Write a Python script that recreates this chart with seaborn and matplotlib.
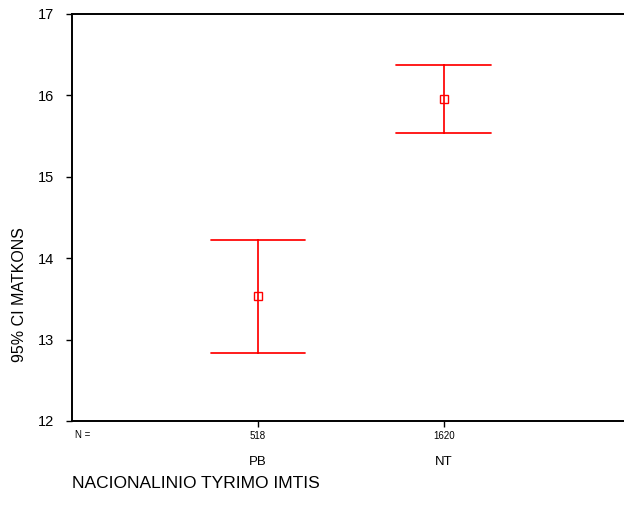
import matplotlib
matplotlib.use('Agg')
import matplotlib.pyplot as plt
import matplotlib.transforms as mtransforms
import seaborn as sns
import pandas as pd

# Duomenys (nuskaityta nuo paveikslo)
groups = ['PB', 'NT']
n_counts = [518, 1620]
means = [13.53, 15.96]
ci_low = [12.83, 15.54]
ci_high = [14.22, 16.37]

# lentelė pointplot'ui: median(low, mean, high) = mean, pi 100 = [low, high]
rows = []
for g, lo, m, hi in zip(groups, ci_low, means, ci_high):
    for v in (lo, m, hi):
        rows.append({'grupe': g, 'matkons': v})
df = pd.DataFrame(rows)

sns.set_style('white', {'text.color': 'black', 'axes.labelcolor': 'black',
                        'xtick.color': 'black', 'ytick.color': 'black'})
plt.rcParams['font.family'] = ['Liberation Sans', 'DejaVu Sans']

fig = plt.figure(figsize=(6.24, 5.14), dpi=100)
ax = fig.add_axes([0.1154, 0.181, 0.888, 0.7918])

sns.pointplot(data=df, x='grupe', y='matkons', order=groups, estimator='median',
              errorbar=('pi', 100), capsize=0.51, color='#ff0000', linestyle='none',
              marker='s', markersize=6, markerfacecolor='white', markeredgewidth=1,
              err_kws={'linewidth': 1.25}, ax=ax)

ax.set_xlim(-1, 1.98)
ax.set_ylim(12, 17)
ax.set_yticks([12, 13, 14, 15, 16, 17])
ax.tick_params(axis='y', direction='out', length=4, width=1, labelsize=10.5, pad=9, left=True)
ax.tick_params(axis='x', direction='out', length=4, width=1, labelsize=7, pad=3, bottom=True)
ax.set_xticks(range(len(groups)))
ax.set_xticklabels([str(n) for n in n_counts])
ax.set_xlabel('')
ax.set_ylabel('')

for side in ['left', 'bottom', 'top', 'right']:
    ax.spines[side].set_color('black')
    ax.spines[side].set_linewidth(1.4)

# pavadinimai po N reikšmėmis
trans = mtransforms.blended_transform_factory(ax.transData, fig.transFigure)
for i, g in enumerate(groups):
    ax.text(i, 1 - 462 / 514, g, transform=trans, ha='center', va='center', fontsize=9.5)
fig.text(75 / 624, 1 - 435 / 514, 'N =', ha='left', va='center', fontsize=7)

fig.text(72 / 624, 1 - 484 / 514, 'NACIONALINIO TYRIMO IMTIS', ha='left', va='center', fontsize=12.5)
fig.text(20 / 624, 1 - 295 / 514, '95% CI MATKONS', ha='center', va='center',
         rotation=90, fontsize=11.5)

fig.savefig('out.png', dpi=100)
